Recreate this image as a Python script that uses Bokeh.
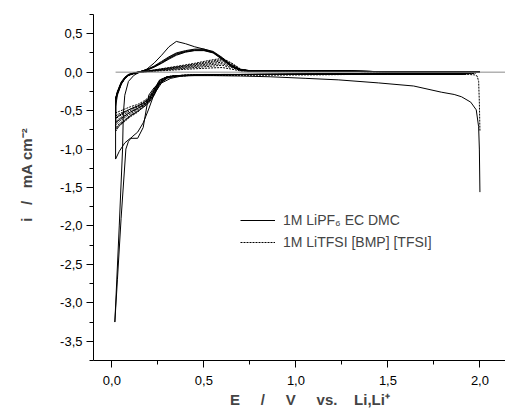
from bokeh.plotting import figure
from bokeh.models import (Range1d, SingleIntervalTicker, CustomJSTickFormatter,
                          Legend, LegendItem)
from bokeh.embed import file_html
from bokeh.resources import INLINE

# ---------------- data (E in V vs Li/Li+, i in mA cm^-2) ----------------
# shared potential grids
E_cath = [2.0, 1.9, 1.7, 1.5, 1.3, 1.1, 0.9, 0.8, 0.7, 0.6, 0.5, 0.45, 0.4, 0.35,
          0.3, 0.26, 0.23, 0.2, 0.17, 0.14, 0.1, 0.07, 0.04, 0.02]
E_anod = [0.02, 0.03, 0.05, 0.07, 0.09, 0.12, 0.15, 0.19, 0.23, 0.27, 0.31, 0.35,
          0.4, 0.45, 0.5, 0.55, 0.6, 0.65, 0.7, 0.75, 0.8, 0.9, 1.1, 1.3, 1.5, 2.0]

# LiPF6 EC DMC, first cycle (own potential grid)
E_s1_cath = [2.0, 1.997, 1.993, 1.98, 1.95, 1.9, 1.86, 1.79, 1.64, 1.45, 1.23, 1.05,
             0.86, 0.7, 0.55, 0.45, 0.38, 0.32, 0.27, 0.23, 0.2, 0.17, 0.14, 0.11,
             0.09, 0.076, 0.05, 0.03, 0.016]
i_s1_cath = [-1.56, -1.0, -0.71, -0.49, -0.39, -0.32, -0.29, -0.26, -0.18, -0.14,
             -0.10, -0.08, -0.06, -0.05, -0.045, -0.045, -0.05, -0.08, -0.14, -0.28,
             -0.48, -0.66, -0.78, -0.84, -0.9, -1.0, -1.9, -2.7, -3.25]
E_s1_anod = [0.016, 0.04, 0.058, 0.062, 0.07, 0.09, 0.12, 0.15, 0.19, 0.23, 0.27,
             0.31, 0.35, 0.4, 0.45, 0.5, 0.55, 0.6, 0.65, 0.7, 0.75, 0.8, 0.9, 1.1,
             1.3, 1.5, 2.0]
i_s1_anod = [-3.25, -2.0, -1.0, -0.55, -0.3, -0.12, -0.04, 0.0, 0.04, 0.12, 0.22,
             0.33, 0.40, 0.37, 0.33, 0.30, 0.26, 0.18, 0.08, 0.03, 0.015, 0.012,
             0.02, 0.02, 0.015, 0.005, 0.0]

# LiPF6 EC DMC, cycles 2-5
i_s2_cath = [0.0, -0.02, -0.02, -0.02, -0.02, -0.025, -0.03, -0.03, -0.03, -0.035,
             -0.035, -0.04, -0.045, -0.05, -0.08, -0.15, -0.2, -0.3, -0.72, -0.86,
             -0.86, -0.92, -1.03, -1.13]
i_s2_anod = [-0.45, -0.3, -0.16, -0.08, -0.04, -0.015, 0.005, 0.035, 0.08, 0.14, 0.2,
             0.25, 0.28, 0.3, 0.3, 0.27, 0.19, 0.09, 0.035, 0.02, 0.02, 0.02, 0.02,
             0.015, 0.004, 0.0]
i_s3_cath = [0.0, -0.02, -0.02, -0.02, -0.02, -0.02, -0.025, -0.025, -0.03, -0.03,
             -0.03, -0.035, -0.04, -0.045, -0.06, -0.12, -0.25, -0.35, -0.4, -0.44,
             -0.48, -0.52, -0.56, -0.6]
i_s3_anod = [-0.36, -0.27, -0.15, -0.08, -0.035, -0.012, 0.005, 0.03, 0.075, 0.13,
             0.19, 0.24, 0.27, 0.29, 0.29, 0.26, 0.18, 0.08, 0.03, 0.02, 0.02, 0.02,
             0.02, 0.015, 0.004, 0.0]
i_s4_cath = [0.0, -0.02, -0.02, -0.02, -0.02, -0.025, -0.025, -0.03, -0.03, -0.03,
             -0.035, -0.04, -0.04, -0.05, -0.07, -0.14, -0.28, -0.38, -0.43, -0.47,
             -0.52, -0.57, -0.62, -0.66]
i_s4_anod = [-0.35, -0.26, -0.14, -0.07, -0.03, -0.01, 0.005, 0.03, 0.07, 0.12, 0.18,
             0.23, 0.265, 0.285, 0.285, 0.255, 0.17, 0.075, 0.03, 0.02, 0.02, 0.02,
             0.02, 0.015, 0.004, 0.0]
i_s5_cath = [0.0, -0.02, -0.02, -0.02, -0.025, -0.025, -0.03, -0.03, -0.03, -0.035,
             -0.035, -0.04, -0.045, -0.05, -0.07, -0.15, -0.3, -0.4, -0.46, -0.51,
             -0.57, -0.63, -0.69, -0.74]
i_s5_anod = [-0.34, -0.25, -0.13, -0.065, -0.03, -0.01, 0.005, 0.025, 0.065, 0.115,
             0.17, 0.22, 0.26, 0.28, 0.28, 0.25, 0.165, 0.07, 0.028, 0.02, 0.02, 0.02,
             0.02, 0.015, 0.004, 0.0]

# LiTFSI [BMP][TFSI], first cycle cathodic (own grid)
E_d1_cath = [2.0, 1.997, 1.993, 1.985, 1.97, 1.94, 1.9, 1.7, 1.5, 1.3, 1.1, 0.9, 0.8,
             0.7, 0.6, 0.5, 0.45, 0.4, 0.35, 0.3, 0.26, 0.23, 0.2, 0.17, 0.14, 0.1,
             0.07, 0.04, 0.02]
i_d1_cath = [-0.76, -0.4, -0.12, -0.05, -0.035, -0.03, -0.03, -0.03, -0.03, -0.03,
             -0.03, -0.03, -0.03, -0.03, -0.03, -0.035, -0.035, -0.04, -0.045, -0.06,
             -0.1, -0.22, -0.33, -0.38, -0.42, -0.45, -0.48, -0.51, -0.53]
i_d1_anod = [-0.37, -0.28, -0.16, -0.09, -0.045, -0.02, -0.005, 0.005, 0.012, 0.018,
             0.024, 0.03, 0.037, 0.044, 0.05, 0.056, 0.06, 0.04, 0.015, 0.01, 0.01,
             0.015, 0.015, 0.01, 0.003, 0.0]
# LiTFSI cycles 2-7
i_d2_cath = [0.0, -0.025, -0.03, -0.03, -0.03, -0.03, -0.03, -0.03, -0.03, -0.03,
             -0.035, -0.035, -0.04, -0.045, -0.06, -0.1, -0.22, -0.34, -0.4, -0.44,
             -0.48, -0.51, -0.54, -0.57]
i_d2_anod = [-0.37, -0.28, -0.16, -0.085, -0.04, -0.018, -0.004, 0.007, 0.016, 0.024,
             0.032, 0.04, 0.05, 0.06, 0.07, 0.08, 0.09, 0.06, 0.02, 0.01, 0.01, 0.015,
             0.015, 0.01, 0.003, 0.0]
i_d3_cath = [0.0, -0.025, -0.03, -0.03, -0.03, -0.03, -0.03, -0.03, -0.03, -0.035,
             -0.035, -0.035, -0.04, -0.045, -0.06, -0.11, -0.23, -0.35, -0.41, -0.45,
             -0.5, -0.54, -0.57, -0.61]
i_d3_anod = [-0.36, -0.275, -0.155, -0.085, -0.04, -0.017, -0.003, 0.009, 0.019, 0.029,
             0.039, 0.049, 0.061, 0.073, 0.086, 0.099, 0.11, 0.075, 0.025, 0.012, 0.01,
             0.015, 0.015, 0.01, 0.003, 0.0]
i_d4_cath = [0.0, -0.025, -0.03, -0.03, -0.03, -0.03, -0.03, -0.03, -0.035, -0.035,
             -0.035, -0.04, -0.04, -0.045, -0.06, -0.11, -0.24, -0.36, -0.42, -0.47,
             -0.52, -0.56, -0.6, -0.65]
i_d4_anod = [-0.36, -0.27, -0.15, -0.08, -0.04, -0.016, -0.002, 0.011, 0.022, 0.033,
             0.045, 0.057, 0.071, 0.085, 0.1, 0.116, 0.13, 0.09, 0.03, 0.013, 0.01,
             0.015, 0.015, 0.01, 0.003, 0.0]
i_d5_cath = [0.0, -0.025, -0.03, -0.03, -0.03, -0.03, -0.03, -0.035, -0.035, -0.035,
             -0.035, -0.04, -0.045, -0.05, -0.065, -0.12, -0.25, -0.37, -0.43, -0.48,
             -0.54, -0.59, -0.64, -0.69]
i_d5_anod = [-0.355, -0.27, -0.15, -0.08, -0.04, -0.015, -0.001, 0.013, 0.025, 0.038,
             0.051, 0.064, 0.08, 0.097, 0.114, 0.132, 0.15, 0.1, 0.034, 0.014, 0.01,
             0.015, 0.015, 0.01, 0.003, 0.0]
i_d6_cath = [0.0, -0.025, -0.03, -0.03, -0.03, -0.03, -0.035, -0.035, -0.035, -0.035,
             -0.04, -0.04, -0.045, -0.05, -0.065, -0.12, -0.26, -0.38, -0.44, -0.5,
             -0.56, -0.62, -0.67, -0.73]
i_d6_anod = [-0.35, -0.265, -0.145, -0.078, -0.038, -0.015, 0.0, 0.014, 0.027, 0.041,
             0.055, 0.069, 0.087, 0.106, 0.125, 0.146, 0.165, 0.11, 0.037, 0.015, 0.01,
             0.015, 0.015, 0.01, 0.003, 0.0]
i_d7_cath = [0.0, -0.025, -0.03, -0.03, -0.03, -0.035, -0.035, -0.035, -0.035, -0.04,
             -0.04, -0.04, -0.045, -0.05, -0.07, -0.13, -0.27, -0.39, -0.45, -0.52,
             -0.58, -0.64, -0.7, -0.77]
i_d7_anod = [-0.345, -0.26, -0.14, -0.075, -0.036, -0.014, 0.0, 0.015, 0.03, 0.045,
             0.06, 0.075, 0.095, 0.115, 0.14, 0.162, 0.18, 0.12, 0.04, 0.015, 0.01,
             0.015, 0.015, 0.01, 0.003, 0.0]

# grey zero reference line
E_zero = [0.02, 2.2]
i_zero = [0.0, 0.0]

# texts
label_solid = "1M LiPF\u2086 EC DMC"
label_dash = "1M LiTFSI [BMP] [TFSI]"
NB = "\u00a0"
x_title = NB * 5 + "E" + NB * 5 + "/" + NB * 5 + "V" + NB * 5 + "vs." + NB * 4 + "Li,Li\u207a"
y_title = NB * 6 + "i" + NB * 3 + "/" + NB * 3 + "mA" + NB + "cm\u207b\u00b2"

FONT = "Liberation Sans"

p = figure(width=505, height=414, output_backend="svg", toolbar_location=None,
           x_range=Range1d(-0.1, 2.139), y_range=Range1d(-3.75, 0.75),
           min_border_left=93, min_border_top=14, min_border_right=0,
           min_border_bottom=54)
p.outline_line_color = None
p.xgrid.visible = False
p.ygrid.visible = False

solid_cycles = [
    (E_s1_cath + E_s1_anod, i_s1_cath + i_s1_anod),
    (E_cath + E_anod, i_s2_cath + i_s2_anod),
    (E_cath + E_anod, i_s3_cath + i_s3_anod),
    (E_cath + E_anod, i_s4_cath + i_s4_anod),
    (E_cath + E_anod, i_s5_cath + i_s5_anod),
]
dash_cycles = [
    (E_d1_cath + E_anod, i_d1_cath + i_d1_anod),
    (E_cath + E_anod, i_d2_cath + i_d2_anod),
    (E_cath + E_anod, i_d3_cath + i_d3_anod),
    (E_cath + E_anod, i_d4_cath + i_d4_anod),
    (E_cath + E_anod, i_d5_cath + i_d5_anod),
    (E_cath + E_anod, i_d6_cath + i_d6_anod),
    (E_cath + E_anod, i_d7_cath + i_d7_anod),
]

dash_r = []
for ex, iy in dash_cycles:
    dash_r.append(p.line(ex, iy, line_color="black", line_width=1, line_dash="2 1"))
solid_r = []
for ex, iy in solid_cycles:
    solid_r.append(p.line(ex, iy, line_color="black", line_width=1))

p.line(E_zero, i_zero, line_color="#8a8a8a", line_width=1)

fmt = CustomJSTickFormatter(code="return tick.toFixed(1).replace('.', ',');")
for ax, title in ((p.xaxis[0], x_title), (p.yaxis[0], y_title)):
    ax.ticker = SingleIntervalTicker(interval=0.5, num_minor_ticks=2)
    ax.formatter = fmt
    ax.axis_label = title
    ax.axis_label_text_font = FONT
    ax.axis_label_text_font_style = "bold"
    ax.axis_label_text_font_size = "15px"
    ax.major_label_text_font = FONT
    ax.major_label_text_font_size = "13px"
    ax.major_label_text_color = "black"
    ax.axis_line_color = "black"
    ax.major_tick_line_color = "black"
    ax.minor_tick_line_color = "black"
    ax.major_tick_in = 0
    ax.major_tick_out = 7
    ax.minor_tick_in = 0
    ax.minor_tick_out = 4
p.xaxis.major_label_standoff = 8
p.xaxis.axis_label_standoff = 3
p.yaxis.major_label_standoff = 4
p.yaxis.axis_label_standoff = 22

legend = Legend(items=[LegendItem(label=label_solid, renderers=[solid_r[1]]),
                       LegendItem(label=label_dash, renderers=[dash_r[1]])],
                location=(147, 108), glyph_width=35, glyph_height=20,
                label_height=20, spacing=2, padding=0, margin=0, label_standoff=8,
                border_line_color=None, background_fill_alpha=0,
                label_text_font=FONT, label_text_font_size="14px")
p.add_layout(legend)

open("out.html", "w").write(file_html(p, INLINE))
